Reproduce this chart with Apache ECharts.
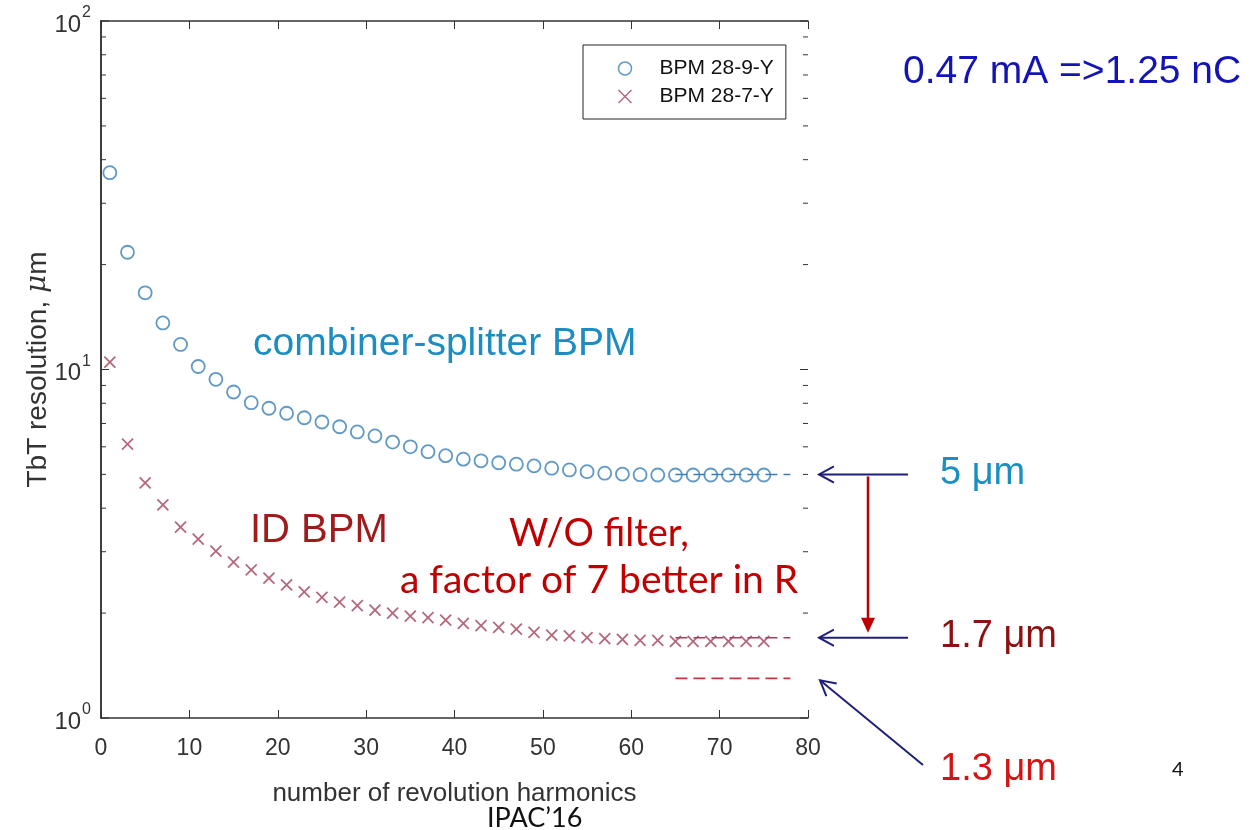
<!DOCTYPE html>
<html>
<head>
<meta charset="utf-8">
<script src="https://cdn.jsdelivr.net/npm/echarts@6/dist/echarts.min.js"></script>
<style>
  html, body { margin: 0; padding: 0; background: #fff; }
  #chart { width: 1258px; height: 830px; }
</style>
</head>
<body>
<div id="chart"></div>
<script>
// harmonics (x) and resolution values
var harmonics = [1, 3, 5, 7, 9, 11, 13, 15, 17, 19, 21, 23, 25, 27, 29, 31, 33, 35, 37,
                 39, 41, 43, 45, 47, 49, 51, 53, 55, 57, 59, 61, 63, 65, 67, 69, 71, 73, 75];
var bpm289 = [36.7, 21.7, 16.6, 13.6, 11.8, 10.2, 9.37, 8.62, 8.03, 7.74, 7.49, 7.27, 7.07,
              6.85, 6.62, 6.45, 6.19, 6.00, 5.81, 5.66, 5.53, 5.47, 5.40, 5.35, 5.29, 5.21,
              5.15, 5.09, 5.04, 5.01, 4.99, 4.98, 4.98, 4.98, 4.98, 4.98, 4.98, 4.98];
var bpm287 = [10.5, 6.11, 4.73, 4.09, 3.53, 3.26, 3.01, 2.80, 2.66, 2.52, 2.41, 2.30, 2.22,
              2.15, 2.10, 2.04, 2.00, 1.96, 1.94, 1.91, 1.87, 1.84, 1.82, 1.80, 1.76, 1.73,
              1.72, 1.70, 1.69, 1.68, 1.67, 1.67, 1.66, 1.66, 1.66, 1.66, 1.66, 1.66];
// reference levels drawn as dashed lines
var refX = [65, 78];
var level289 = 5;
var level287 = 1.7;
var levelR = 1.3;
var yMajorTicks = [1, 10, 100];
var yMinorTicks = [2, 3, 4, 5, 6, 7, 8, 9, 20, 30, 40, 50, 60, 70, 80, 90];

var myChart = echarts.init(document.getElementById('chart'));

var blue = '#3a80b6';
var brown = '#a0435a';
var axisColor = '#333';
var font = 'Liberation Sans';

function pairs(xs, ys) {
    return xs.map(function (x, i) { return [x, ys[i]]; });
}

var crossPath = 'path://M0,0L10,10M10,0L0,10';

// y ticks (major + minor) drawn on both sides of the box, pointing inward
var yTickData = yMajorTicks.map(function (v) { return [0, v, 8]; })
    .concat(yMinorTicks.map(function (v) { return [0, v, 5]; }));

var option = {
    animation: false,
    grid: { left: 101, top: 21, right: 450, bottom: 112 },
    legend: {
        orient: 'vertical',
        left: 583,
        top: 45,
        padding: [13, 12, 12, 33],
        itemGap: 7,
        itemWidth: 13,
        itemHeight: 13,
        borderColor: '#222',
        borderWidth: 1,
        textStyle: { fontFamily: font, fontSize: 21, color: '#111', padding: [0, 0, 0, 23] },
        data: [
            { name: 'BPM 28-9-Y', icon: 'circle', itemStyle: { color: 'none', borderColor: blue, borderWidth: 1.5 } },
            { name: 'BPM 28-7-Y', icon: crossPath, itemStyle: { color: 'none', borderColor: brown, borderWidth: 1.5 } }
        ]
    },
    xAxis: [{
        type: 'value',
        min: 0,
        max: 80,
        interval: 10,
        name: 'number of revolution harmonics',
        nameLocation: 'middle',
        nameGap: 63,
        nameTextStyle: { fontFamily: font, fontSize: 26, color: '#333' },
        axisLine: { lineStyle: { color: axisColor, width: 1.5 } },
        axisTick: { inside: true, length: 8, lineStyle: { color: axisColor } },
        axisLabel: { margin: 19, fontFamily: font, fontSize: 23, color: '#333' },
        splitLine: { show: false }
    }, {
        type: 'value',
        position: 'top',
        min: 0,
        max: 80,
        interval: 10,
        axisLine: { lineStyle: { color: axisColor, width: 1.5 } },
        axisTick: { inside: true, length: 8, lineStyle: { color: axisColor } },
        axisLabel: { show: false },
        splitLine: { show: false }
    }],
    yAxis: [{
        type: 'log',
        logBase: 10,
        min: 1,
        max: 100,
        name: '{a|TbT resolution, }{b|μ}{a|m}',
        nameLocation: 'middle',
        nameGap: 49,
        nameMoveOverlap: false,
        nameTextStyle: {
            rich: {
                a: { fontFamily: font, fontSize: 28, color: '#333' },
                b: { fontFamily: 'DejaVu Serif', fontStyle: 'italic', fontSize: 28, color: '#333' }
            }
        },
        axisLine: { show: true, lineStyle: { color: axisColor, width: 1.5 } },
        axisTick: { show: false },
        axisLabel: {
            margin: 10,
            formatter: function (v) {
                return '{b|10}{s|' + Math.round(Math.log10(v)) + '}';
            },
            rich: {
                b: { fontFamily: font, fontSize: 24, color: '#333', verticalAlign: 'bottom' },
                s: { fontFamily: font, fontSize: 16, color: '#333', verticalAlign: 'top', padding: [0, 0, 16, 1] }
            }
        },
        splitLine: { show: false }
    }, {
        type: 'log',
        logBase: 10,
        min: 1,
        max: 100,
        position: 'right',
        axisLine: { show: true, lineStyle: { color: axisColor, width: 1.5 } },
        axisTick: { show: false },
        axisLabel: { show: false },
        splitLine: { show: false }
    }],
    series: [{
        name: 'y ticks',
        type: 'custom',
        silent: true,
        clip: false,
        data: yTickData,
        renderItem: function (params, api) {
            var len = api.value(2);
            var p = api.coord([0, api.value(1)]);
            var q = api.coord([80, api.value(1)]);
            var st = { stroke: axisColor, lineWidth: 1 };
            return {
                type: 'group',
                children: [
                    { type: 'line', shape: { x1: p[0], y1: p[1], x2: p[0] + len, y2: p[1] }, style: st },
                    { type: 'line', shape: { x1: q[0], y1: q[1], x2: q[0] - len, y2: q[1] }, style: st }
                ]
            };
        }
    }, {
        name: 'ref 289',
        type: 'line',
        data: pairs(refX, [level289, level289]),
        symbol: 'none',
        lineStyle: { color: blue, width: 1.5, type: [12, 6] },
        z: 1
    }, {
        name: 'ref 287',
        type: 'line',
        data: pairs(refX, [level287, level287]),
        symbol: 'none',
        lineStyle: { color: brown, width: 1.5, type: [12, 6] },
        z: 1
    }, {
        name: 'ref R',
        type: 'line',
        data: pairs(refX, [levelR, levelR]),
        symbol: 'none',
        lineStyle: { color: '#c8363e', width: 1.8, type: [12, 6] },
        z: 1
    }, {
        name: 'BPM 28-9-Y',
        type: 'scatter',
        data: pairs(harmonics, bpm289),
        symbol: 'circle',
        symbolSize: 13,
        itemStyle: { color: 'none', borderColor: blue, borderWidth: 1.8 },
        z: 3
    }, {
        name: 'BPM 28-7-Y',
        type: 'scatter',
        data: pairs(harmonics, bpm287),
        symbol: crossPath,
        symbolSize: 11,
        itemStyle: { color: 'none', borderColor: brown, borderWidth: 1.8 },
        z: 3
    }]
};

myChart.setOption(option);

// annotations on the right, tied to the axis values
var y5 = myChart.convertToPixel({ yAxisIndex: 0 }, level289);
var y17 = myChart.convertToPixel({ yAxisIndex: 0 }, level287);
var y13 = myChart.convertToPixel({ yAxisIndex: 0 }, levelR);
var navy = '#1f1f7a';

function openHead(x, y, angle) {
    // open arrow head at (x,y), pointing in direction angle
    var a1 = angle + Math.PI - 0.5, a2 = angle + Math.PI + 0.5, L = 17;
    return {
        type: 'polyline',
        shape: { points: [[x + L * Math.cos(a1), y + L * Math.sin(a1)], [x, y], [x + L * Math.cos(a2), y + L * Math.sin(a2)]] },
        style: { stroke: navy, lineWidth: 2, fill: null }
    };
}

var diagAngle = Math.atan2(y13 + 2 - 765, 820 - 923);

myChart.setOption({
    graphic: [
        { type: 'text', left: 253, top: 325, style: { text: 'combiner-splitter BPM', font: '39px "Liberation Sans"', fill: '#1b8dc0' } },
        { type: 'text', left: 250, top: 511, style: { text: 'ID BPM', font: '40px "Liberation Sans"', fill: '#a01c1c' } },
        { type: 'text', left: 509, top: 515, style: { text: 'W/O filter,', font: '38px Lato', fill: '#c00000' } },
        { type: 'text', left: 400, top: 561, style: { text: 'a factor of 7 better in R', font: '39px Lato', fill: '#c00000' } },
        { type: 'text', left: 903, top: 53, style: { text: '0.47 mA =>1.25 nC', font: '39px "Liberation Sans"', fill: '#1414b4' } },
        { type: 'text', left: 940, top: y5 - 20, style: { text: '5 μm', font: '38px "Liberation Sans"', fill: '#1a90c0' } },
        { type: 'text', left: 940, top: y17 - 20, style: { text: '1.7 μm', font: '38px "Liberation Sans"', fill: '#8c1212' } },
        { type: 'text', left: 940, top: 751, style: { text: '1.3 μm', font: '38px "Liberation Sans"', fill: '#d41414' } },
        { type: 'text', left: 1172, top: 760, style: { text: '4', font: '20px Lato', fill: '#111' } },
        { type: 'text', left: 487, top: 805, style: { text: 'IPAC’16', font: '27px Lato', fill: '#111' } },
        // arrows
        { type: 'line', shape: { x1: 908, y1: y5, x2: 819, y2: y5 }, style: { stroke: navy, lineWidth: 2 } },
        openHead(819, y5, Math.PI),
        { type: 'line', shape: { x1: 908, y1: y17, x2: 819, y2: y17 }, style: { stroke: navy, lineWidth: 2 } },
        openHead(819, y17, Math.PI),
        { type: 'line', shape: { x1: 923, y1: 765, x2: 820, y2: y13 + 2 }, style: { stroke: navy, lineWidth: 2 } },
        openHead(820, y13 + 2, diagAngle),
        { type: 'line', shape: { x1: 868, y1: y5 + 2, x2: 868, y2: y17 - 18 }, style: { stroke: '#c00000', lineWidth: 2.5 } },
        { type: 'polygon', shape: { points: [[861, y17 - 20], [875, y17 - 20], [868, y17 - 5]] }, style: { fill: '#c00000' } }
    ]
});
</script>
</body>
</html>
